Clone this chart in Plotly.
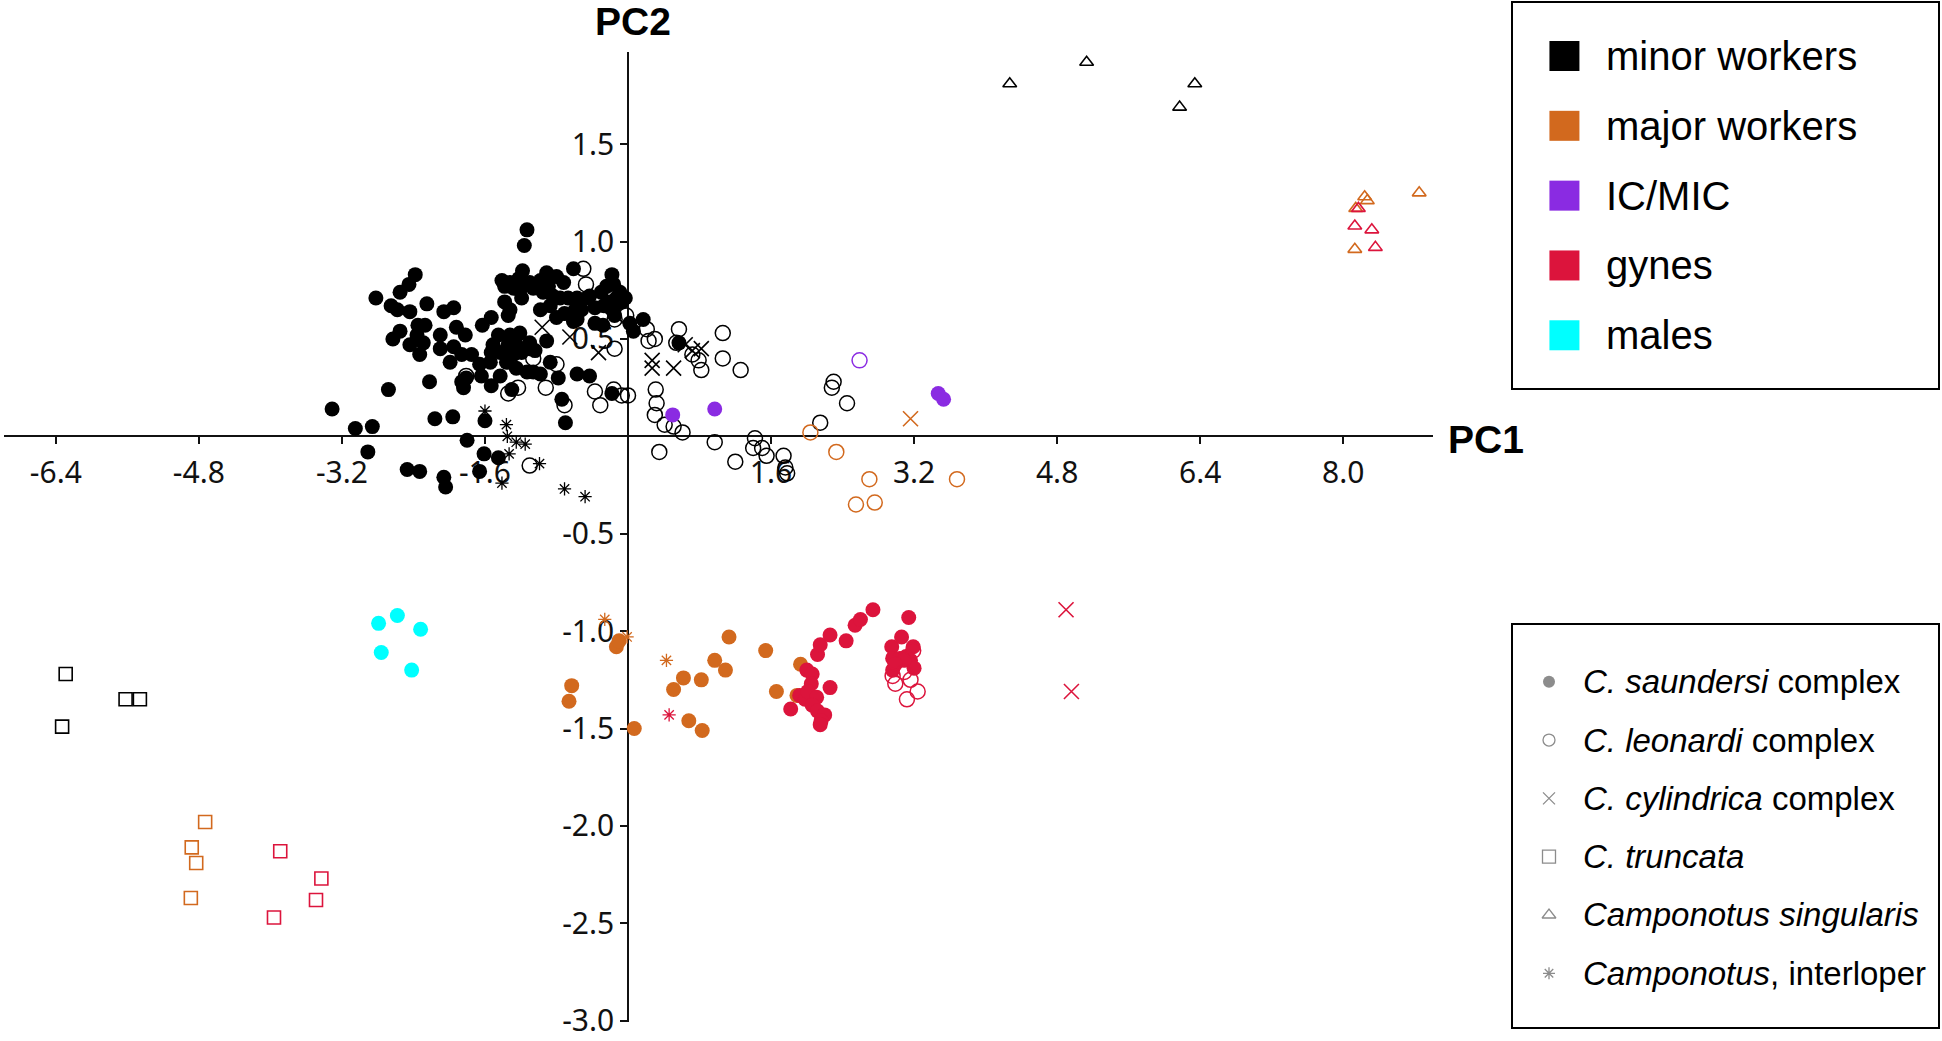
import plotly.graph_objects as go

W, H = 1942, 1041

# ---------------- axis values ----------------
x_range = [-6.98, 9.0]
y_range = [-3.004, 1.973]
x_tickvals = [-6.4, -4.8, -3.2, -1.6, 1.6, 3.2, 4.8, 6.4, 8.0]
x_ticktext = ["-6.4", "-4.8", "-3.2", "-1.6", "1.6", "3.2", "4.8", "6.4", "8.0"]
y_tickvals = [1.5, 1.0, 0.5, -0.5, -1.0, -1.5, -2.0, -2.5, -3.0]
y_ticktext = ["1.5", "1.0", "0.5", "-0.5", "-1.0", "-1.5", "-2.0", "-2.5", "-3.0"]

# ---------------- colours ----------------
caste_names = ["minor workers", "major workers", "IC/MIC", "gynes", "males"]
caste_colors = ["#000000", "#D2691E", "#8A2BE2", "#DC143C", "#00FFFF"]
species_names = ["<i>C. saundersi</i> complex", "<i>C. leonardi</i> complex",
                 "<i>C. cylindrica</i> complex", "<i>C. truncata</i>",
                 "<i>Camponotus singularis</i>", "<i>Camponotus</i>, interloper"]

# ---------------- data: minor workers ----------------
minor_saund_x = [-1.13, -1.16, -2.82, -2.55, -2.45, -2.38, -2.65, -2.58, -2.44, -2.25, -2.06, -1.95,
                 -1.18, -0.91, -0.61, -0.18, -1.41, -1.32, -1.22, -1.10, -0.98, -1.04, -0.80, -0.72,
                 -1.38, -1.28, -1.21, -1.06, -0.89, -0.95, -0.84, -0.76, -0.67, -0.57, -0.46, -0.43,
                 -0.30, -0.24, -0.16, -0.09, -0.03, -0.13, -0.20, -0.07, -0.27, -1.19, -1.38, -0.98,
                 -0.87, -0.80, -0.71, -0.59, -0.52, -0.37, -0.16, -0.20, -0.15, -0.57, -0.61, -0.37,
                 -0.28, 0.06, 0.02, 0.17, 0.57, -1.32, -1.34, -1.53, -1.63, -1.92, -2.27, -2.35,
                 -2.55, -2.63, -2.36, -2.29, -2.10, -2.10, -1.95, -1.82, -2.44, -2.33, -1.99, -1.86,
                 -1.75, -1.45, -1.32, -1.21, -1.51, -1.43, -1.34, -1.25, -1.19, -1.10, -1.10, -1.28,
                 -1.36, -1.25, -1.53, -1.54, -1.64, -1.43, -1.53, -1.66, -1.81, -1.86, -1.84, -1.13,
                 -1.06, -0.98, -0.87, -0.91, -1.04, -0.78, -0.57, -0.43, -1.30, -2.68, -2.22, -0.74,
                 -0.18, -0.70, -2.16, -1.96, -1.60, -3.31, -3.05, -2.86, -2.91, -1.80, -1.61, -1.45,
                 -2.47, -2.33, -2.06, -2.04, -1.66]
minor_saund_y = [1.06, 0.98, 0.71, 0.74, 0.78, 0.83, 0.67, 0.65, 0.64, 0.68, 0.64, 0.66,
                 0.85, 0.84, 0.86, 0.83, 0.80, 0.79, 0.81, 0.79, 0.80, 0.77, 0.82, 0.79,
                 0.77, 0.76, 0.75, 0.76, 0.77, 0.74, 0.72, 0.71, 0.71, 0.71, 0.71, 0.72,
                 0.74, 0.77, 0.78, 0.74, 0.71, 0.71, 0.69, 0.69, 0.67, 0.71, 0.69, 0.65,
                 0.67, 0.61, 0.63, 0.65, 0.65, 0.66, 0.64, 0.66, 0.62, 0.60, 0.59, 0.58,
                 0.57, 0.54, 0.58, 0.60, 0.48, 0.65, 0.62, 0.61, 0.57, 0.56, 0.57, 0.57,
                 0.54, 0.50, 0.52, 0.48, 0.52, 0.45, 0.46, 0.52, 0.47, 0.42, 0.38, 0.42,
                 0.42, 0.52, 0.52, 0.53, 0.47, 0.43, 0.47, 0.47, 0.43, 0.48, 0.45, 0.42,
                 0.38, 0.35, 0.43, 0.38, 0.31, 0.31, 0.26, 0.37, 0.30, 0.28, 0.25, 0.33,
                 0.33, 0.32, 0.38, 0.49, 0.44, 0.30, 0.32, 0.31, 0.24, 0.24, 0.28, 0.19,
                 0.22, 0.07, 0.09, 0.10, 0.08, 0.14, 0.04, 0.05, -0.08, -0.02, -0.09, -0.11,
                 -0.17, -0.18, -0.21, -0.26, -0.18]
minor_leon_x = [-0.50, -0.47, -0.02, -0.15, 0.21, 0.23, 0.30, 0.57, 1.06, 0.54, 0.72, 0.79, 0.82,
                1.06, 1.26, -1.06, -0.80, -0.92, -1.23, -1.34, -1.81, -0.15, -0.16, -0.07, 0.00,
                -0.37, -0.31, -0.71, 0.31, 0.32, 0.30, 0.41, 0.51, 0.61, 0.97, 0.35, 1.20, 1.42,
                1.40, 1.50, 1.55, 1.74, 1.76, 1.78, -1.10, 2.30, 2.28, 2.45, 2.15]
minor_leon_y = [0.86, 0.78, 0.62, 0.60, 0.55, 0.49, 0.50, 0.55, 0.53, 0.48, 0.42, 0.39, 0.34,
                0.40, 0.34, 0.40, 0.37, 0.25, 0.25, 0.22, 0.31, 0.45, 0.24, 0.21, 0.21,
                0.23, 0.16, 0.16, 0.24, 0.17, 0.11, 0.06, 0.05, 0.02, -0.03, -0.08, -0.13, -0.01,
                -0.06, -0.06, -0.10, -0.10, -0.16, -0.19, -0.15, 0.28, 0.25, 0.17, 0.07]
minor_cyl_x = [-0.96, -0.65, -0.33, 0.27, 0.27, 0.51, 0.64, 0.72, 0.82]
minor_cyl_y = [0.56, 0.51, 0.43, 0.39, 0.35, 0.35, 0.47, 0.44, 0.45]
minor_trunc_x = [-6.29, -5.62, -5.46, -6.33]
minor_trunc_y = [-1.22, -1.35, -1.35, -1.49]
minor_sing_x = [4.27, 5.13, 6.34, 6.17]
minor_sing_y = [1.81, 1.92, 1.81, 1.69]
minor_inter_x = [-1.60, -1.36, -1.35, -1.25, -1.15, -1.33, -0.99, -1.41, -0.71, -0.48]
minor_inter_y = [0.13, 0.06, 0.00, -0.03, -0.04, -0.09, -0.14, -0.24, -0.27, -0.31]

# ---------------- data: major workers ----------------
major_saund_x = [-0.13, -0.10, -0.63, -0.66, 0.07, 0.51, 0.62, 0.82, 0.68, 0.83, 0.97, 1.09,
                 1.13, 1.54, 1.66, 1.93, 1.89]
major_saund_y = [-1.08, -1.05, -1.28, -1.36, -1.50, -1.30, -1.24, -1.25, -1.46, -1.51, -1.15, -1.20,
                 -1.03, -1.10, -1.31, -1.17, -1.33]
major_leon_x = [2.04, 2.33, 2.70, 2.55, 2.76, 3.68]
major_leon_y = [0.02, -0.08, -0.22, -0.35, -0.34, -0.22]
major_cyl_x = [3.16]
major_cyl_y = [0.09]
major_trunc_x = [-4.73, -4.88, -4.83, -4.89]
major_trunc_y = [-1.98, -2.11, -2.19, -2.37]
major_sing_x = [8.24, 8.27, 8.14, 8.85, 8.13]
major_sing_y = [1.23, 1.21, 1.17, 1.25, 0.96]
major_inter_x = [-0.26, -0.01, 0.43]
major_inter_y = [-0.94, -1.03, -1.15]

# ---------------- data: IC/MIC ----------------
ic_saund_x = [0.50, 0.97, 3.47, 3.53]
ic_saund_y = [0.11, 0.14, 0.22, 0.19]
ic_leon_x = [2.59]
ic_leon_y = [0.39]

# ---------------- data: gynes ----------------
gyne_saund_x = [2.00, 2.06, 2.05, 2.26, 1.82, 1.92, 1.98, 2.01, 2.11, 2.06, 2.12, 2.20, 2.16, 2.15,
                2.12, 2.15, 2.26, 2.44, 2.54, 2.60, 2.74, 2.95, 3.06, 3.14, 3.19, 2.96, 3.04, 3.11,
                3.16, 3.20, 2.96, 3.09, 2.99]
gyne_saund_y = [-1.20, -1.22, -1.27, -1.29, -1.40, -1.33, -1.35, -1.31, -1.34, -1.38, -1.41, -1.43,
                -1.46, -1.48, -1.12, -1.07, -1.02, -1.05, -0.97, -0.94, -0.89, -1.08, -1.03, -0.93,
                -1.08, -1.14, -1.14, -1.13, -1.15, -1.19, -1.20, -1.15, -1.17]
gyne_leon_x = [3.19, 2.99, 3.09, 3.16, 3.24, 3.12, 2.96]
gyne_leon_y = [-1.10, -1.27, -1.21, -1.25, -1.31, -1.35, -1.23]
gyne_cyl_x = [4.90, 4.96]
gyne_cyl_y = [-0.89, -1.31]
gyne_trunc_x = [-3.89, -3.43, -3.49, -3.96]
gyne_trunc_y = [-2.13, -2.27, -2.38, -2.47]
gyne_sing_x = [8.17, 8.13, 8.32, 8.36]
gyne_sing_y = [1.17, 1.08, 1.06, 0.97]
gyne_inter_x = [0.46]
gyne_inter_y = [-1.43]

# ---------------- data: males ----------------
male_saund_x = [-2.79, -2.58, -2.32, -2.76, -2.42]
male_saund_y = [-0.96, -0.92, -0.99, -1.11, -1.20]

# ---------------- marker styles per species ----------------
SYM = {
    "saund": dict(symbol="circle", size=15, line=dict(width=0)),
    "leon": dict(symbol="circle-open", size=15, line=dict(width=1.5)),
    "cyl": dict(symbol="x-thin-open", size=15, line=dict(width=1.6)),
    "trunc": dict(symbol="square-open", size=13, line=dict(width=1.6)),
    "sing": dict(symbol="triangle-up-open", size=12, line=dict(width=1.6)),
    "inter": dict(symbol="asterisk-open", size=11, line=dict(width=1.3)),
}

groups = [
    (minor_saund_x, minor_saund_y, "saund", 0),
    (minor_leon_x, minor_leon_y, "leon", 0),
    (minor_cyl_x, minor_cyl_y, "cyl", 0),
    (minor_trunc_x, minor_trunc_y, "trunc", 0),
    (minor_sing_x, minor_sing_y, "sing", 0),
    (minor_inter_x, minor_inter_y, "inter", 0),
    (major_saund_x, major_saund_y, "saund", 1),
    (major_leon_x, major_leon_y, "leon", 1),
    (major_cyl_x, major_cyl_y, "cyl", 1),
    (major_trunc_x, major_trunc_y, "trunc", 1),
    (major_sing_x, major_sing_y, "sing", 1),
    (major_inter_x, major_inter_y, "inter", 1),
    (ic_saund_x, ic_saund_y, "saund", 2),
    (ic_leon_x, ic_leon_y, "leon", 2),
    (gyne_saund_x, gyne_saund_y, "saund", 3),
    (gyne_leon_x, gyne_leon_y, "leon", 3),
    (gyne_cyl_x, gyne_cyl_y, "cyl", 3),
    (gyne_trunc_x, gyne_trunc_y, "trunc", 3),
    (gyne_sing_x, gyne_sing_y, "sing", 3),
    (gyne_inter_x, gyne_inter_y, "inter", 3),
    (male_saund_x, male_saund_y, "saund", 4),
]

fig = go.Figure()
for gx, gy, sp, ci in groups:
    st = SYM[sp]
    fig.add_trace(go.Scatter(
        x=gx, y=gy, mode="markers", xaxis="x", yaxis="y",
        marker=dict(symbol=st["symbol"], size=st["size"], color=caste_colors[ci],
                    line=dict(width=st["line"]["width"], color=caste_colors[ci])),
        hoverinfo="x+y", showlegend=False, cliponaxis=False))

# ---------------- legend 1 (castes) as a small key subplot ----------------
n1 = len(caste_names)
fig.add_trace(go.Scatter(
    x=[0.121] * n1, y=list(range(n1)), mode="markers", xaxis="x2", yaxis="y2",
    marker=dict(symbol="square", size=30, color=caste_colors, line=dict(width=0)),
    hoverinfo="skip", showlegend=False, cliponaxis=False))
# ---------------- legend 2 (species) ----------------
sp_keys = ["saund", "leon", "cyl", "trunc", "sing", "inter"]
leg2_sizes = [12, 12, 12, 13, 12, 10]
for i, k in enumerate(sp_keys):
    fig.add_trace(go.Scatter(
        x=[0.0847], y=[i], mode="markers", xaxis="x3", yaxis="y3",
        marker=dict(symbol=SYM[k]["symbol"], size=leg2_sizes[i], color="#8c8c8c",
                    line=dict(width=1.3 if k != "saund" else 0, color="#8c8c8c")),
        hoverinfo="skip", showlegend=False, cliponaxis=False))

# ---------------- layout geometry ----------------
plot_l, plot_r, plot_t, plot_b = 4, 1432.6, 52, 1021.5
xdom = [plot_l / W, plot_r / W]
ydom = [1 - plot_b / H, 1 - plot_t / H]
x0pos = xdom[0] + (0 - x_range[0]) / (x_range[1] - x_range[0]) * (xdom[1] - xdom[0])
y0pos = ydom[0] + (0 - y_range[0]) / (y_range[1] - y_range[0]) * (ydom[1] - ydom[0])

tick_font = dict(family="Noto Sans, Open Sans, sans-serif", size=30, color="#111111")
axis_common = dict(showline=True, linecolor="#111111", linewidth=1.6, ticks="outside",
                   tickcolor="#111111", tickwidth=1.5, ticklen=7, showgrid=False,
                   zeroline=False, layer="below traces", automargin=False,
                   fixedrange=True, tickfont=tick_font, ticklabeloverflow="allow")

box_axis = dict(showline=True, mirror=True, linecolor="#000000", linewidth=2,
                showticklabels=False, ticks="", showgrid=False, zeroline=False,
                fixedrange=True, automargin=False)

fig.update_layout(
    width=W, height=H, template="none",
    margin=dict(l=0, r=0, t=0, b=0, pad=0),
    paper_bgcolor="white", plot_bgcolor="rgba(0,0,0,0)",
    showlegend=False, hovermode="closest",
    xaxis=dict(domain=xdom, range=x_range, anchor="free", position=y0pos,
               tickvals=x_tickvals, ticktext=x_ticktext, ticklabelstandoff=3, **axis_common),
    yaxis=dict(domain=ydom, range=y_range, anchor="free", position=x0pos,
               tickvals=y_tickvals, ticktext=y_ticktext, **axis_common),
    xaxis2=dict(domain=[1513 / W, 1938 / W], range=[0, 1], anchor="y2", **box_axis),
    yaxis2=dict(domain=[1 - 388 / H, 1 - 3 / H], range=[4.755, -0.759], anchor="x2", **box_axis),
    xaxis3=dict(domain=[1513 / W, 1938 / W], range=[0, 1], anchor="y3", **box_axis),
    yaxis3=dict(domain=[1 - 1027 / H, 1 - 625 / H], range=[5.921, -0.973], anchor="x3", **box_axis),
)

annotations = []
for i, name in enumerate(caste_names):
    annotations.append(dict(x=0.214, y=i, xref="x2", yref="y2", text=name, showarrow=False,
                            xanchor="left", yanchor="middle",
                            font=dict(family="Liberation Sans, Arial, sans-serif", size=40,
                                      color="#000000")))
for i, name in enumerate(species_names):
    annotations.append(dict(x=0.16, y=i, xref="x3", yref="y3", text=name, showarrow=False,
                            xanchor="left", yanchor="middle",
                            font=dict(family="Liberation Sans, Arial, sans-serif", size=33,
                                      color="#000000")))
annotations.append(dict(x=633 / W, y=1 - 21 / H, xref="paper", yref="paper", text="<b>PC2</b>",
                        showarrow=False, xanchor="center", yanchor="middle",
                        font=dict(family="Liberation Sans, Arial, sans-serif", size=39,
                                  color="#000000")))
annotations.append(dict(x=1486 / W, y=1 - 439 / H, xref="paper", yref="paper", text="<b>PC1</b>",
                        showarrow=False, xanchor="center", yanchor="middle",
                        font=dict(family="Liberation Sans, Arial, sans-serif", size=39,
                                  color="#000000")))
fig.update_layout(annotations=annotations)

fig.write_html("out.html", config={"displayModeBar": False},
               post_script="document.body.style.margin='0';document.body.style.overflow='hidden';")
